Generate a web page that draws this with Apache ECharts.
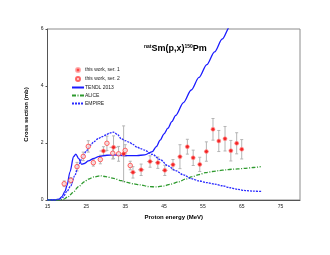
<!DOCTYPE html>
<html>
<head>
<meta charset="utf-8">
<script src="https://cdn.jsdelivr.net/npm/echarts@6/dist/echarts.min.js"></script>
<style>html,body{margin:0;padding:0;background:#fff}#c{width:330px;height:255px}</style>
</head>
<body>
<div id="c"></div>
<script>
// ---- data ----
var xTicks = [15, 25, 35, 45, 55, 65, 75];
var yTicks = [0, 2, 4, 6];

var ser1E   = [29.4, 32.0, 34.6, 37.0, 39.1, 41.4, 43.4, 45.2, 47.3, 49.1, 51.0, 52.5, 54.2, 55.9, 57.6, 59.1, 60.7, 62.2, 63.7, 65.0];
var ser1CS  = [1.72, 1.85, 1.62, 0.97, 1.06, 1.35, 1.31, 1.04, 1.24, 1.52, 1.87, 1.48, 1.25, 1.70, 2.48, 2.07, 2.15, 1.73, 1.99, 1.78];
var ser1dCS = [0.15, 0.40, 0.98, 0.20, 0.20, 0.20, 0.20, 0.18, 0.18, 0.42, 0.26, 0.27, 0.25, 0.34, 0.38, 0.37, 0.43, 0.36, 0.37, 0.34];
var ser1dE  = [1.0, 1.0, 0.9, 0.8, 0.8, 0.8, 0.7, 0.7, 0.6, 0.6, 0.5, 0.5, 0.5, 0.5, 0.4, 0.4, 0.4, 0.4, 0.3, 0.3];

var ser2E   = [19.3, 21.0, 22.6, 24.2, 25.5, 26.8, 28.6, 30.3, 31.8, 33.3, 35.0, 36.3];
var ser2CS  = [0.57, 0.69, 1.17, 1.53, 1.88, 1.31, 1.42, 1.99, 1.64, 1.62, 1.74, 1.21];
var ser2dCS = [0.10, 0.10, 0.15, 0.15, 0.20, 0.12, 0.15, 0.25, 0.20, 0.26, 0.20, 0.15];
var ser2dE  = [0.5, 0.5, 0.5, 0.5, 0.5, 0.5, 0.5, 0.5, 0.5, 0.5, 0.5, 0.5];

var tendlE  = [15, 17, 18, 18.7, 19.5, 20, 20.8, 21.7, 22.3, 23, 23.8, 24.5, 25.5, 27, 28.1, 30.3, 32, 35, 38, 40, 42, 43, 44, 45, 46, 47, 48, 50, 52, 54, 56, 58, 60, 62, 63];
var tendlCS = [0, 0, 0.03, 0.12, 0.3, 0.5, 0.99, 1.52, 1.61, 1.46, 1.25, 1.28, 1.37, 1.46, 1.52, 1.57, 1.58, 1.56, 1.56, 1.58, 1.70, 1.87, 2.10, 2.32, 2.52, 2.75, 2.97, 3.42, 3.86, 4.30, 4.75, 5.20, 5.65, 6.10, 6.32];

var aliceE  = [15, 18, 19, 20.4, 21.5, 23, 24.5, 25.5, 27, 28.6, 30, 32, 34, 35.5, 37, 38.9, 41.1, 43, 44.9, 46.5, 48.8, 50.5, 52.3, 54, 55.7, 57.5, 59.1, 61, 62.6, 64, 66, 68, 69.9];
var aliceCS = [0, 0, 0.02, 0.12, 0.26, 0.47, 0.64, 0.73, 0.81, 0.85, 0.82, 0.76, 0.68, 0.62, 0.57, 0.53, 0.47, 0.46, 0.49, 0.55, 0.64, 0.73, 0.82, 0.89, 0.96, 1.00, 1.03, 1.06, 1.08, 1.09, 1.11, 1.14, 1.17];

var empireE  = [15, 18, 19, 20, 21, 22, 23, 24, 25, 26, 27, 28, 29, 30, 31, 32, 33, 34, 35, 36, 37, 38, 39, 40, 42, 44, 46, 48, 50, 52, 54, 56, 58, 60, 62, 64, 66, 68, 70];
var empireCS = [0, 0.02, 0.1, 0.3, 0.5, 0.85, 1.23, 1.5, 1.72, 1.92, 2.05, 2.15, 2.22, 2.28, 2.35, 2.38, 2.30, 2.15, 2.08, 2.03, 1.95, 1.86, 1.80, 1.75, 1.60, 1.42, 1.20, 1.03, 0.88, 0.75, 0.67, 0.61, 0.56, 0.50, 0.43, 0.37, 0.33, 0.31, 0.30];

function pairs(xs, ys) { return xs.map(function (x, i) { return [x, ys[i]]; }); }
function errRows(xs, ys, dx, dy) { return xs.map(function (x, i) { return [x, ys[i], dx[i], dy[i]]; }); }

var FONT = 'Liberation Sans';

function errRender(params, api) {
  var x = api.value(0), y = api.value(1), dx = api.value(2), dy = api.value(3);
  var top = api.coord([x, y + dy]), bot = api.coord([x, y - dy]);
  var lft = api.coord([x - dx, y]), rgt = api.coord([x + dx, y]);
  var st = { stroke: '#b4b4b4', lineWidth: 1 };
  var cw = 1.5;
  return {
    type: 'group',
    children: [
      { type: 'line', shape: { x1: top[0], y1: top[1], x2: bot[0], y2: bot[1] }, style: st },
      { type: 'line', shape: { x1: top[0] - cw, y1: top[1], x2: top[0] + cw, y2: top[1] }, style: st },
      { type: 'line', shape: { x1: bot[0] - cw, y1: bot[1], x2: bot[0] + cw, y2: bot[1] }, style: st },
      { type: 'line', shape: { x1: lft[0], y1: lft[1], x2: rgt[0], y2: rgt[1] }, style: st }
    ]
  };
}

var noSym = { opacity: 0 };

var chart = echarts.init(document.getElementById('c'), null, { renderer: 'canvas' });
chart.setOption({
  animation: false,
  backgroundColor: '#fff',
  textStyle: { fontFamily: FONT },
  title: {
    text: '{sup|nat}{m|Sm(p,x)}{sup|150}{m|Pm}',
    left: 144, top: 44,
    padding: 0,
    textStyle: {
      rich: {
        m: { fontFamily: FONT, fontSize: 9, fontWeight: 'bold', color: '#000', lineHeight: 10, verticalAlign: 'middle' },
        sup: { fontFamily: FONT, fontSize: 5, color: '#000', lineHeight: 10, verticalAlign: 'top' }
      }
    }
  },
  legend: {
    orient: 'vertical',
    left: 71, top: 67,
    padding: 0,
    itemWidth: 12, itemHeight: 4, itemGap: 3,
    textStyle: { fontFamily: FONT, fontSize: 5, color: '#222', padding: [0, 0, 0, -4] },
    data: [
      { name: 'this work, ser. 1' },
      { name: 'this work, ser. 2' },
      { name: 'TENDL 2013', itemStyle: noSym },
      { name: 'ALICE', itemStyle: noSym },
      { name: 'EMPIRE', itemStyle: noSym }
    ]
  },
  grid: { left: 47.5, right: 30, top: 29, bottom: 55, show: true, borderColor: '#8c8c8c', borderWidth: 1 },
  xAxis: {
    type: 'value', min: 15, max: 80, interval: 5,
    name: 'Proton energy (MeV)', nameLocation: 'middle', nameGap: 14,
    nameTextStyle: { fontFamily: FONT, fontSize: 6, fontWeight: 'bold', color: '#000' },
    axisLine: { lineStyle: { color: '#555', width: 1 } },
    axisTick: { show: false },
    splitLine: { show: false },
    axisLabel: {
      fontFamily: FONT, fontSize: 5, color: '#222', margin: 4,
      showMaxLabel: false,
      formatter: function (v) { return xTicks.indexOf(v) >= 0 ? String(v) : ''; }
    }
  },
  yAxis: {
    type: 'value', min: 0, max: 6, interval: 2,
    name: 'Cross section (mb)', nameLocation: 'middle', nameGap: 15,
    nameTextStyle: { fontFamily: FONT, fontSize: 6, fontWeight: 'bold', color: '#000' },
    axisLine: { show: true, lineStyle: { color: '#555', width: 1 } },
    axisTick: { show: true, inside: false, length: 2, lineStyle: { color: '#555' } },
    splitLine: { show: false },
    axisLabel: {
      fontFamily: FONT, fontSize: 5, color: '#222', margin: 4,
      formatter: function (v) { return yTicks.indexOf(v) >= 0 ? String(v) : ''; }
    }
  },
  series: [
    {
      name: 'TENDL 2013', type: 'line', data: pairs(tendlE, tendlCS),
      symbol: 'none', smooth: 0.3, smoothMonotone: 'x', clip: true,
      lineStyle: { color: '#1a1aff', width: 1.3 }, itemStyle: { color: '#1a1aff' }, z: 3
    },
    {
      name: 'ALICE', type: 'line', data: pairs(aliceE, aliceCS),
      symbol: 'none', smooth: 0.3, smoothMonotone: 'x',
      lineStyle: { color: '#2e9a2e', width: 1.3, type: [4, 1.5, 1, 1.5] }, itemStyle: { color: '#2e9a2e' }, z: 3
    },
    {
      name: 'EMPIRE', type: 'line', data: pairs(empireE, empireCS),
      symbol: 'none', smooth: 0.3, smoothMonotone: 'x',
      lineStyle: { color: '#2a2aff', width: 1.3, type: [2, 1] }, itemStyle: { color: '#2a2aff' }, z: 3
    },
    {
      type: 'custom', renderItem: errRender, data: errRows(ser1E, ser1CS, ser1dE, ser1dCS),
      encode: { x: 0, y: 1 }, z: 2, silent: true
    },
    {
      type: 'custom', renderItem: errRender, data: errRows(ser2E, ser2CS, ser2dE, ser2dCS),
      encode: { x: 0, y: 1 }, z: 2, silent: true
    },
    {
      name: 'this work, ser. 1', type: 'scatter', data: pairs(ser1E, ser1CS),
      symbol: 'circle', symbolSize: 4,
      itemStyle: { color: '#ff0000', borderColor: '#ff9a9a', borderWidth: 0.8 }, z: 5
    },
    {
      name: 'this work, ser. 2', type: 'scatter', data: pairs(ser2E, ser2CS),
      symbol: 'circle', symbolSize: 4.5,
      itemStyle: { color: '#ffe0e0', borderColor: '#ff4040', borderWidth: 1 }, z: 5
    }
  ]
});
</script>
</body>
</html>
